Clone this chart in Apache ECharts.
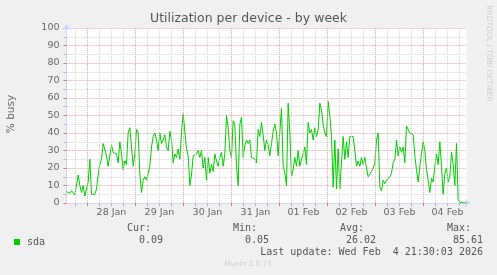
<!DOCTYPE html>
<html><head><meta charset="utf-8">
<script src="https://cdn.jsdelivr.net/npm/echarts@6/dist/echarts.min.js"></script>
<style>html,body{margin:0;padding:0;background:#f0f0f0}#c{width:497px;height:275px}</style>
</head><body><div id="c"></div>
<script>
const chartTitle = 'Utilization per device - by week';
const yAxisTitle = '% busy';
const sideText = 'RRDTOOL / TOBI OETIKER';
const footerText = 'Munin 2.0.75';
const seriesName = 'sda';
// hours since 27 Jan 00:00
const startHour = 13.5;
const endHour = 213.5;
const stepHours = 50 / 60;
const dayLabels = ['28 Jan', '29 Jan', '30 Jan', '31 Jan', '01 Feb', '02 Feb', '03 Feb', '04 Feb'];
const dayLabelHours = [36, 60, 84, 108, 132, 156, 180, 204];
const yTicks = [0, 10, 20, 30, 40, 50, 60, 70, 80, 90, 100];
const statLabels = ['Cur:', 'Min:', 'Avg:', 'Max:'];
const statValues = ['0.09', '0.05', '26.02', '85.61'];
const lastUpdate = 'Last update: Wed Feb  4 21:30:03 2026';
const sdaBusy = [
  6.5, 6, 5.5, 7, 6, 4.5, 4, 16, 10, 6, 10, 4, 8, 12, 25, 5, 4, 5, 8, 16,
  22, 25, 34, 33, 27, 21, 22, 33, 29, 30, 28, 23, 35, 28, 19, 24, 22, 40, 43, 32,
  21, 28, 42, 40, 17, 6, 13, 15, 13, 14, 21, 32, 38, 40, 36, 30, 40, 34, 36, 39,
  32, 30, 41, 36, 23, 28, 26, 31, 25, 40, 51, 50, 31, 27, 10, 16, 27, 28, 28, 30,
  26, 30, 20, 26, 13, 26, 17, 22, 18, 28, 24, 21, 26, 29, 21, 28, 50, 43, 30, 26,
  47, 45, 21, 10, 45, 49, 26, 33, 36, 34,
  36, 26, 25, 25, 23, 42, 38, 46, 39, 30, 36, 33, 27, 34, 41, 45, 40, 27, 41, 54,
  21, 17, 10, 57, 40, 15, 19, 26, 21, 30, 21, 25, 28, 32, 22, 46, 40, 42, 36, 43,
  38, 42, 57, 53, 45, 40, 38, 58, 50, 38, 9, 36, 8, 31, 8, 23, 38, 25, 35, 26,
  38, 39, 38, 30, 21, 24, 21, 26, 22, 26, 20, 15, 16, 18, 20, 23, 36, 40, 9, 7,
  13, 11, 13, 13, 15, 17, 23, 25, 36, 27, 32, 29, 32, 23, 44, 43, 40, 40, 39, 27,
  19, 12, 21, 22, 35, 30, 19, 13, 6, 14, 12, 21, 28, 22, 35, 21, 5, 17, 20, 12,
  15, 29, 22, 10, 34, 2, 0.4, 0.3, 0.1, 0.1, 0.09
];

const lineColor = '#00cc00';
const majorGrid = '#eba3a3';
const minorGrid = '#d4d4d4';
const axisColor = '#cfd6f8';
const fontColor = '#666666';

const data = sdaBusy.map((v, i) => [startHour + i * stepHours, v]);
const minorHours = [], majorHours = [];
for (let h = 18; h < endHour; h += 6) { (h % 24 === 0 ? majorHours : minorHours).push(h); }
const allTickHours = minorHours.concat(majorHours).sort((a, b) => a - b);

const gridLines = minorHours.map(h => ({ xAxis: h, lineStyle: { color: minorGrid, type: [1, 1], width: 1 } }))
  .concat(majorHours.map(h => ({ xAxis: h, lineStyle: { color: majorGrid, type: [1, 1], width: 1 } })));

const mono = 'DejaVu Sans Mono';
const sans = 'DejaVu Sans';
const graphics = [
  { type: 'text', x: 248.5, y: 19, style: { text: chartTitle, fontFamily: sans, fontSize: 12.5, fill: '#555', align: 'center', verticalAlign: 'middle' } },
  { type: 'text', x: 11, y: 114, rotation: Math.PI / 2, style: { text: yAxisTitle, fontFamily: sans, fontSize: 10.5, fill: fontColor, align: 'center', verticalAlign: 'middle' } },
  { type: 'text', x: 488.5, y: 53.5, rotation: -Math.PI / 2, style: { text: sideText, fontFamily: sans, fontSize: 7.5, fill: '#cccccc', align: 'center', verticalAlign: 'middle' } },
  { type: 'text', x: 248, y: 264, style: { text: footerText, fontFamily: sans, fontSize: 7.3, fill: '#cccccc', align: 'center', verticalAlign: 'middle' } },
  { type: 'text', x: 483, y: 252, style: { text: lastUpdate, fontFamily: mono, fontSize: 10, fill: '#555', align: 'right', verticalAlign: 'middle' } }
];
const labelLeft = [127, 233, 340, 447];
const valueRight = [163, 269, 376, 483];
statLabels.forEach((t, i) => graphics.push({ type: 'text', x: labelLeft[i], y: 228, style: { text: t, fontFamily: mono, fontSize: 10, fill: '#555', align: 'left', verticalAlign: 'middle' } }));
statValues.forEach((t, i) => graphics.push({ type: 'text', x: valueRight[i], y: 240, style: { text: t, fontFamily: mono, fontSize: 10, fill: '#555', align: 'right', verticalAlign: 'middle' } }));

const chart = echarts.init(document.getElementById('c'), null, { renderer: 'canvas' });
chart.setOption({
  backgroundColor: '#f0f0f0',
  animation: false,
  grid: { left: 66.5, right: 30.5, top: 28, bottom: 72, show: true, backgroundColor: '#ffffff', borderWidth: 0 },
  legend: {
    data: [seriesName], left: 14, top: 237, padding: 0, icon: 'rect', itemWidth: 6, itemHeight: 6,
    textStyle: { fontFamily: mono, fontSize: 10, color: '#555', padding: [0, 0, 0, 2] }
  },
  xAxis: [{
    type: 'value', min: startHour, max: endHour,
    axisLine: { show: true, lineStyle: { color: axisColor, width: 1 }, symbol: ['none', 'arrow'], symbolSize: [6, 6], symbolOffset: [0, 4] },
    axisTick: { show: true, customValues: allTickHours, length: 3, lineStyle: { color: '#bbbbbb' } },
    axisLabel: { customValues: dayLabelHours, formatter: v => dayLabels[dayLabelHours.indexOf(v)] || '', fontFamily: sans, fontSize: 9.5, color: fontColor, margin: 5 },
    splitLine: { show: false }
  }, {
    type: 'value', min: startHour, max: endHour, position: 'bottom',
    axisLine: { show: false }, axisLabel: { show: false }, splitLine: { show: false },
    axisTick: { show: true, customValues: majorHours, length: 3, lineStyle: { color: '#e07070' } }
  }],
  yAxis: {
    type: 'value', min: 0, max: 100, interval: 10,
    axisLine: { show: true, lineStyle: { color: axisColor, width: 1 }, symbol: ['none', 'arrow'], symbolSize: [6, 6], symbolOffset: [0, 4] },
    axisTick: { show: true, length: 3, lineStyle: { color: '#e07070' } },
    minorTick: { show: true, splitNumber: 2, length: 3, lineStyle: { color: '#bbbbbb' } },
    axisLabel: { fontFamily: sans, fontSize: 9.5, color: fontColor, margin: 7, formatter: v => yTicks.includes(v) ? String(v) : '' },
    splitLine: { show: true, lineStyle: { color: majorGrid, type: [1, 1], width: 1 } },
    minorSplitLine: { show: true, lineStyle: { color: minorGrid, type: [1, 1], width: 1 } }
  },
  graphic: graphics,
  series: [{
    type: 'line', name: 'grid', data: data, z: 1, silent: true, symbol: 'none',
    lineStyle: { opacity: 0 }, tooltip: { show: false },
    markLine: { silent: true, symbol: 'none', label: { show: false }, animation: false,
      lineStyle: { type: [1, 1], width: 1, color: minorGrid, opacity: 1 },
      emphasis: { disabled: true }, data: gridLines }
  }, {
    type: 'line', name: seriesName, data: data, z: 3, symbol: 'none', showSymbol: false,
    itemStyle: { color: lineColor }, lineStyle: { color: lineColor, width: 1 }
  }]
});
</script></body></html>
